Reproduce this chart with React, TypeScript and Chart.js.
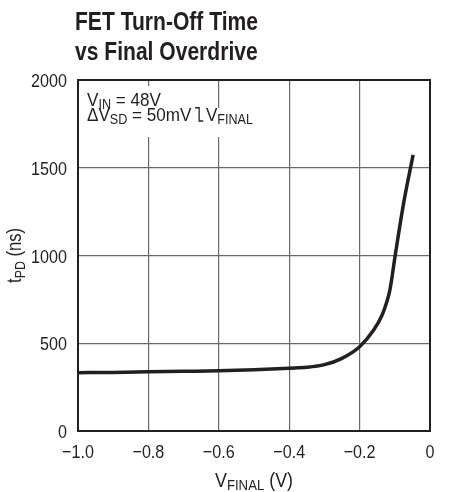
import { useEffect, useRef } from 'react';
import { Chart, registerables } from 'chart.js';

Chart.register(...registerables);

// ---- data ----
const vFinal = [-1.0, -0.9, -0.8, -0.7, -0.6, -0.5, -0.4, -0.35, -0.3, -0.25, -0.2, -0.16, -0.136, -0.124, -0.114, -0.098, -0.075, -0.048];
const tpd = [332, 334, 337, 340, 343, 349, 358, 363, 378, 414, 480, 575, 661, 728, 803, 1012, 1297, 1573];

const xTickValues = [-1.0, -0.8, -0.6, -0.4, -0.2, 0];
const xTickLabels = ['\u22121.0', '\u22120.8', '\u22120.6', '\u22120.4', '\u22120.2', '0'];
const yTickValues = [0, 500, 1000, 1500, 2000];
const yTickLabels = ['0', '500', '1000', '1500', '2000'];

const titleLines = ['FET Turn-Off Time', 'vs Final Overdrive'];

const FONT = "'Liberation Sans', Arial, sans-serif";
const INK = '#231f20';
const SX = 0.85; // horizontal condensing, mimics a condensed Helvetica
const SX_NOTE = 0.9;

type Part = { t?: string; sub?: boolean; step?: boolean };

const fontStr = (size: number, bold = false) => `${bold ? 'bold ' : ''}${size}px ${FONT}`;

function measureParts(ctx: CanvasRenderingContext2D, parts: Part[], size: number, subSize: number, bold = false) {
  let w = 0;
  for (const p of parts) {
    if (p.step) { w += 16; continue; }
    ctx.font = fontStr(p.sub ? subSize : size, bold);
    w += ctx.measureText(p.t || '').width;
  }
  return w;
}

// draws parts starting at local x=0 in an already translated/scaled context
function drawPartsLocal(ctx: CanvasRenderingContext2D, parts: Part[], x0: number, size: number, subSize: number, subDy: number, bold = false) {
  let cx = x0;
  ctx.textAlign = 'left';
  ctx.textBaseline = 'alphabetic';
  for (const p of parts) {
    if (p.step) {
      const cap = size * 0.7;
      ctx.save();
      ctx.lineWidth = 1.4;
      ctx.strokeStyle = INK;
      ctx.beginPath();
      ctx.moveTo(cx + 4, -cap);
      ctx.lineTo(cx + 8.5, -cap);
      ctx.lineTo(cx + 8.5, 0);
      ctx.lineTo(cx + 13, 0);
      ctx.stroke();
      ctx.restore();
      cx += 16;
      continue;
    }
    ctx.font = fontStr(p.sub ? subSize : size, bold);
    ctx.fillText(p.t || '', cx, p.sub ? subDy : 0);
    cx += ctx.measureText(p.t || '').width;
  }
}

function drawText(
  ctx: CanvasRenderingContext2D, parts: Part[], x: number, baseline: number,
  size: number, subSize: number, subDy: number, sx: number,
  align: 'left' | 'center' | 'right' = 'left', bold = false, rotate = 0,
) {
  const w = measureParts(ctx, parts, size, subSize, bold);
  ctx.save();
  ctx.translate(x, baseline);
  if (rotate) ctx.rotate(rotate);
  ctx.scale(sx, 1);
  const x0 = align === 'left' ? 0 : align === 'center' ? -w / 2 : -w;
  drawPartsLocal(ctx, parts, x0, size, subSize, subDy, bold);
  ctx.restore();
  return w * sx;
}

const line1: Part[] = [{ t: 'V' }, { t: 'IN', sub: true }, { t: ' = 48V' }];
const line2: Part[] = [{ t: '\u0394V' }, { t: 'SD', sub: true }, { t: ' = 50mV' }, { step: true }, { t: 'V' }, { t: 'FINAL', sub: true }];
const yTitle: Part[] = [{ t: 't' }, { t: 'PD', sub: true }, { t: ' (ns)' }];
const xTitle: Part[] = [{ t: 'V' }, { t: 'FINAL', sub: true }, { t: ' (V)' }];

const decorPlugin = {
  id: 'decor',
  beforeDatasetsDraw(chart: any) {
    const ctx: CanvasRenderingContext2D = chart.ctx;
    const { left, top } = chart.chartArea;
    ctx.save();
    const x = left + 9;
    const w1 = measureParts(ctx, line1, 19, 14) * SX_NOTE;
    const w2 = measureParts(ctx, line2, 19, 14) * SX_NOTE;
    ctx.fillStyle = '#ffffff';
    ctx.fillRect(x - 4, top + 6, w1 + 8, 30);
    ctx.fillRect(x - 4, top + 28, w2 + 8, 29);
    ctx.fillStyle = INK;
    drawText(ctx, line1, x, top + 26, 19, 14, 3, SX_NOTE);
    drawText(ctx, line2, x, top + 41, 19, 14, 3, SX_NOTE);
    ctx.restore();
  },
  afterDraw(chart: any) {
    const ctx: CanvasRenderingContext2D = chart.ctx;
    const { left, top, right, bottom } = chart.chartArea;
    const xs = chart.scales.x;
    const ys = chart.scales.y;
    ctx.save();
    // frame
    ctx.strokeStyle = INK;
    ctx.lineWidth = 2;
    ctx.strokeRect(left, top, right - left, bottom - top);
    ctx.fillStyle = INK;
    // title
    titleLines.forEach((t, i) => {
      drawText(ctx, [{ t }], left - 3, 29.5 + i * 30.5, 26.5, 20, 0, 0.795, 'left', true);
    });
    // tick labels, positioned through the chart's scales
    xTickValues.forEach((v, i) => {
      drawText(ctx, [{ t: xTickLabels[i] }], xs.getPixelForValue(v), bottom + 27, 19, 14, 0, SX, 'center');
    });
    yTickValues.forEach((v, i) => {
      drawText(ctx, [{ t: yTickLabels[i] }], left - 11, ys.getPixelForValue(v) + 7, 19, 14, 0, SX, 'right');
    });
    // axis titles
    drawText(ctx, xTitle, (left + right) / 2, 487, 21, 15.5, 3, SX, 'center');
    drawText(ctx, yTitle, 21, (top + bottom) / 2, 19.5, 14.5, 3.5, SX, 'center', false, -Math.PI / 2);
    ctx.restore();
  },
};

export default function App() {
  const ref = useRef<HTMLCanvasElement>(null);

  useEffect(() => {
    if (!ref.current) return;
    const chart = new Chart(ref.current, {
      type: 'line',
      data: {
        datasets: [
          {
            data: vFinal.map((v, i) => ({ x: v, y: tpd[i] })),
            borderColor: INK,
            borderWidth: 3.5,
            pointRadius: 0,
            fill: false,
            cubicInterpolationMode: 'monotone',
          },
        ],
      },
      options: {
        animation: false,
        responsive: false,
        events: [],
        layout: { padding: { top: 80, right: 29, bottom: 0, left: 0 } },
        plugins: {
          legend: { display: false },
          tooltip: { enabled: false },
          title: { display: false },
        },
        scales: {
          x: {
            type: 'linear',
            min: -1,
            max: 0,
            afterFit: (s: any) => { s.height = 61; },
            afterBuildTicks: (s: any) => { s.ticks = xTickValues.map((v) => ({ value: v })); },
            ticks: { display: false },
            grid: { color: '#6a6a6a', lineWidth: 1.2, drawTicks: false },
            border: { display: false },
          },
          y: {
            type: 'linear',
            min: 0,
            max: 2000,
            afterFit: (s: any) => { s.width = 78; },
            afterBuildTicks: (s: any) => { s.ticks = yTickValues.map((v) => ({ value: v })); },
            ticks: { display: false },
            grid: { color: '#6a6a6a', lineWidth: 1.2, drawTicks: false },
            border: { display: false },
          },
        },
      },
      plugins: [decorPlugin],
    } as any);
    return () => chart.destroy();
  }, []);

  return (
    <div style={{ position: 'absolute', left: 0, top: 0, width: 459, height: 492, background: '#fff' }}>
      <canvas ref={ref} width={459} height={492} />
    </div>
  );
}
